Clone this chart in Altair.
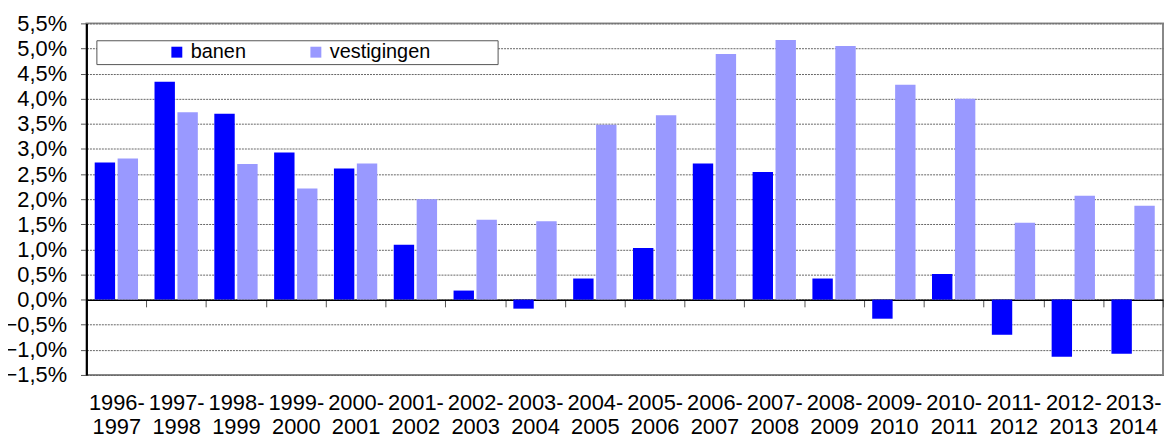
import altair as alt
import pandas as pd

periodes = ["1996-1997", "1997-1998", "1998-1999", "1999-2000", "2000-2001", "2001-2002",
            "2002-2003", "2003-2004", "2004-2005", "2005-2006", "2006-2007", "2007-2008",
            "2008-2009", "2009-2010", "2010-2011", "2011-2012", "2012-2013", "2013-2014"]
banen = [2.73, 4.34, 3.70, 2.93, 2.61, 1.09, 0.18, -0.18, 0.42, 1.03, 2.71, 2.54,
         0.42, -0.38, 0.51, -0.70, -1.14, -1.08]
vestigingen = [2.81, 3.73, 2.70, 2.21, 2.71, 2.00, 1.59, 1.56, 3.48, 3.67, 4.89, 5.17,
               5.05, 4.28, 4.00, 1.53, 2.07, 1.87]
reeksen = ["banen", "vestigingen"]
kleuren = ["#0000FF", "#9999FF"]
y_ticks = [-1.5, -1.0, -0.5, 0.0, 0.5, 1.0, 1.5, 2.0, 2.5, 3.0, 3.5, 4.0, 4.5, 5.0, 5.5]

rows = []
for i, p in enumerate(periodes):
    rows.append({"periode": p, "reeks": "banen", "waarde": banen[i]})
    rows.append({"periode": p, "reeks": "vestigingen", "waarde": vestigingen[i]})
df = pd.DataFrame(rows)

FONT = "Liberation Sans"
# trailing blank space inside the legend frame (nbsp + braille blank so it is not trimmed)
PAD = "\u00a0" * 9 + "\u2800"

chart = alt.Chart(df).mark_bar().encode(
    x=alt.X("periode:N", sort=periodes, title=None,
            scale=alt.Scale(paddingInner=0, paddingOuter=0),
            axis=alt.Axis(labelAngle=0, offset=-75.6, tickBand="extent",
                          tickSize=7, tickColor="#555", domainColor="#000", domainWidth=1.5,
                          labelPadding=86, labelFontSize=22, labelFont=FONT, labelColor="#000",
                          labelLineHeight=25, labelLimit=200,
                          labelExpr="[slice(datum.label, 0, 5), slice(datum.label, 5)]",
                          grid=False)),
    xOffset=alt.XOffset("reeks:N", sort=reeksen,
                        scale=alt.Scale(paddingInner=0.11, paddingOuter=0.36)),
    y=alt.Y("waarde:Q", title=None,
            scale=alt.Scale(domain=[-1.5, 5.5], nice=False, zero=False),
            axis=alt.Axis(values=y_ticks, labelExpr="replace(format(datum.value, '.1f'), '.', ',') + '%'",
                          labelFontSize=22, labelFont=FONT, labelColor="#000", labelPadding=14,
                          tickSize=6, tickColor="#555", domainColor="#000", domainWidth=2,
                          grid=True, gridColor="#666", gridDash=[2, 1], gridWidth=1)),
    color=alt.Color("reeks:N", sort=reeksen,
                    scale=alt.Scale(domain=reeksen, range=kleuren),
                    legend=alt.Legend(orient="none", legendX=10, legendY=17, direction="horizontal",
                                      title=" ", titleOrient="left", titleFontSize=11, titlePadding=69,
                                      symbolType="square", symbolSize=121, symbolStrokeWidth=0,
                                      labelFontSize=20, labelFont=FONT, labelColor="#000", labelOffset=4,
                                      columnPadding=60, padding=2, labelLimit=400,
                                      labelExpr="datum.label + (datum.label == 'vestigingen' ? '" + PAD + "' : '')",
                                      fillColor="#FFFFFF", strokeColor="#555"))
).properties(
    width=1084, height=354,
    autosize=alt.AutoSizeParams(type="none"),
    padding={"left": 79, "top": 14, "right": 1, "bottom": 62}
).configure_view(
    stroke="#888", strokeWidth=2
)

chart.save("out.html", embed_options={"renderer": "svg", "actions": False})
